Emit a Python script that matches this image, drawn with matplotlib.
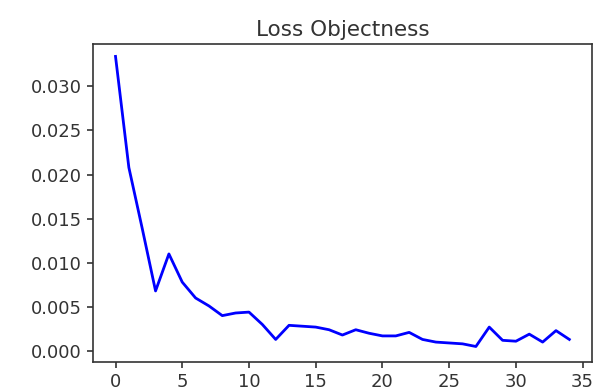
import matplotlib
matplotlib.use('Agg')
import matplotlib.pyplot as plt

epochs = list(range(35))
loss_objectness = [0.0334, 0.0208, 0.0139, 0.0068, 0.0110, 0.0078, 0.0060, 0.0051,
                   0.0040, 0.0043, 0.0044, 0.0030, 0.0013, 0.0029, 0.0028, 0.0027,
                   0.0024, 0.0018, 0.0024, 0.0020, 0.0017, 0.0017, 0.0021, 0.0013,
                   0.0010, 0.0009, 0.0008, 0.0005, 0.0027, 0.0012, 0.0011, 0.0019,
                   0.0010, 0.0023, 0.0013]

fig = plt.figure(figsize=(5.95, 3.9), dpi=100)
ax = fig.add_axes([0.156, 0.072, 0.839, 0.815])
ax.plot(epochs, loss_objectness, color='b', linewidth=2)
ax.set_ylim(-0.00125, 0.0348)
ax.set_title('Loss Objectness', fontsize=15.5, color='#333333')
ax.tick_params(labelsize=13, length=4.5, width=1.2, colors='#333333')
for s in ax.spines.values():
    s.set_linewidth(1.2)
    s.set_color('#333333')

fig.savefig('out.png', dpi=100)
